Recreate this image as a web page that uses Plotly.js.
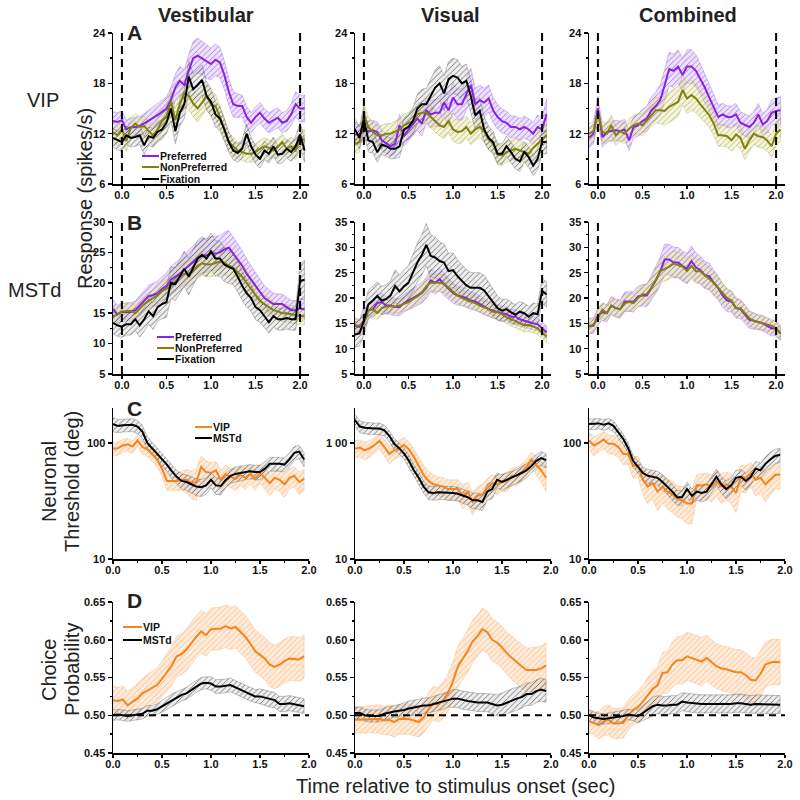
<!DOCTYPE html>
<html>
<head>
<meta charset="utf-8">
<script src="https://cdn.plot.ly/plotly-3.0.1.min.js"></script>
<style>
  body { margin: 0; background: #fff; }
  #graph { width: 800px; height: 800px; }
</style>
</head>
<body>
<div id="graph"></div>
<script>
// time bins (sec) for the PSTH rows (A, B) and the threshold / CP rows (C, D)
var tAB = [-0.1,-0.05,0,0.05,0.1,0.15,0.2,0.25,0.3,0.35,0.4,0.45,0.5,0.55,0.6,0.65,0.7,0.75,0.8,0.85,0.9,0.95,1.0,1.05,1.1,1.15,1.2,1.25,1.3,1.35,1.4,1.45,1.5,1.55,1.6,1.65,1.7,1.75,1.8,1.85,1.9,1.95,2.0,2.05];
var tCD = [0,0.05,0.1,0.15,0.2,0.25,0.3,0.35,0.4,0.45,0.5,0.55,0.6,0.65,0.7,0.75,0.8,0.85,0.9,0.95,1.0,1.05,1.1,1.15,1.2,1.25,1.3,1.35,1.4,1.45,1.5,1.55,1.6,1.65,1.7,1.75,1.8,1.85,1.9,1.95];

// stimulus onset / offset, chance level
var stimEdges = [0, 2];
var chanceLevel = 0.5;

// ---- Row A: VIP responses (spikes/s), mean and sem ----
var aVesPref = [13.5,13.4,13.6,12.5,12.8,12.8,12.9,13.2,13.5,13.9,14.2,14.6,15.0,16.0,17.5,18.3,17.8,19.5,21.0,21.3,21.0,20.6,20.3,20.8,20.5,19.0,17.0,15.5,15.3,15.3,14.0,13.3,14.0,14.5,13.8,13.3,13.6,13.9,13.3,13.5,14.3,15.5,15.0,15.0];
var aVesPrefSem = [1.1,1.1,1.1,1.1,1.1,1.1,1.1,1.2,1.2,1.3,1.3,1.4,1.4,1.5,1.6,1.7,1.8,1.9,2.0,2.1,2.0,2.0,1.9,1.9,1.8,1.7,1.6,1.5,1.4,1.3,1.3,1.2,1.2,1.2,1.2,1.2,1.2,1.2,1.2,1.2,1.3,1.5,1.6,1.6];
var aVesNon = [12.2,11.8,12.5,11.1,12.7,13.2,12.8,12.9,12.3,11.8,12.5,13.5,14.0,15.8,13.6,15.5,16.8,16.5,15.6,15.0,15.7,16.5,15.5,15.3,14.0,12.5,11.0,10.5,10.0,9.8,9.6,9.6,9.8,10.2,10.5,10.3,10.0,10.4,11.0,10.2,10.5,10.0,11.3,11.3];
var aVesNonSem = [1.2,1.2,1.2,1.2,1.2,1.2,1.2,1.2,1.2,1.2,1.2,1.3,1.3,1.4,1.4,1.5,1.6,1.6,1.6,1.6,1.6,1.5,1.5,1.4,1.3,1.2,1.1,1.1,1.0,1.0,1.0,1.0,1.0,1.0,1.0,1.0,1.0,1.0,1.0,1.0,1.1,1.1,1.2,1.2];
var aVesFix = [11.5,11.2,11.0,11.8,11.5,11.6,11.8,10.6,11.7,11.5,12.2,12.5,13.3,15.0,12.3,14.5,15.5,18.8,17.3,17.8,18.4,16.5,15.8,14.3,13.8,12.5,11.0,10.0,9.7,10.2,12.0,10.5,9.5,9.0,10.0,9.6,10.5,9.5,9.6,10.2,9.8,10.5,11.9,10.0];
var aVesFixSem = [1.1,1.1,1.1,1.1,1.1,1.1,1.1,1.1,1.1,1.1,1.2,1.2,1.3,1.5,1.5,1.6,1.7,1.9,1.9,1.9,1.8,1.7,1.6,1.5,1.4,1.3,1.2,1.1,1.1,1.1,1.1,1.1,1.1,1.1,1.1,1.1,1.1,1.1,1.1,1.1,1.1,1.2,1.4,1.4];

var aVisPref = [11.9,11.9,12.5,12.3,12.4,12.2,11.2,10.8,10.5,10.8,13.0,11.8,12.5,13.2,13.8,13.2,14.8,14.3,14.5,14.5,15.7,14.8,16.3,15.5,15.5,16.7,17.8,15.5,16.0,15.7,16.2,14.8,14.0,13.5,13.3,12.8,12.8,12.5,12.8,12.5,12.0,12.8,12.5,14.3];
var aVisPrefSem = [1.2,1.2,1.2,1.2,1.2,1.2,1.2,1.2,1.2,1.2,1.3,1.3,1.3,1.4,1.4,1.5,1.5,1.6,1.6,1.7,1.7,1.8,1.8,1.8,1.9,1.9,2.0,1.9,1.8,1.7,1.6,1.5,1.5,1.4,1.4,1.3,1.3,1.3,1.3,1.3,1.3,1.4,1.5,1.8];
var aVisNon = [10.8,11.0,14.3,12.8,12.2,11.8,11.8,12.0,12.0,12.3,12.5,13.0,13.3,13.5,14.3,14.5,14.5,14.0,13.5,13.0,12.8,13.5,12.5,12.2,12.3,12.8,12.0,12.5,12.8,12.3,11.3,10.8,9.5,9.4,9.8,10.0,10.2,10.0,9.8,9.6,10.3,10.8,11.3,11.8];
var aVisNonSem = [1.2,1.2,1.2,1.2,1.2,1.2,1.2,1.2,1.2,1.2,1.3,1.3,1.3,1.3,1.3,1.3,1.3,1.3,1.3,1.3,1.4,1.4,1.4,1.4,1.4,1.3,1.3,1.3,1.3,1.3,1.2,1.2,1.2,1.2,1.2,1.2,1.2,1.2,1.2,1.2,1.2,1.3,1.3,1.4];
var aVisFix = [12.5,11.5,13.7,11.2,11.0,9.8,10.7,10.5,10.2,10.2,10.5,12.5,12.8,13.5,15.0,15.5,15.5,16.5,17.5,18.0,16.8,18.5,18.9,18.7,18.0,18.3,16.5,14.2,14.7,12.5,11.5,11.0,9.6,9.6,10.5,9.8,9.0,8.7,9.8,9.2,8.2,9.0,11.0,11.0];
var aVisFixSem = [1.3,1.3,1.5,1.4,1.3,1.2,1.2,1.2,1.2,1.2,1.3,1.4,1.5,1.6,1.7,1.8,1.9,2.0,2.1,2.1,2.1,2.1,2.1,2.1,2.0,2.0,1.9,1.8,1.6,1.5,1.4,1.3,1.2,1.2,1.2,1.2,1.2,1.2,1.2,1.2,1.2,1.3,1.4,1.4];

var aCmbPref = [11.5,12.0,15.0,11.6,12.2,12.3,12.4,12.3,12.5,11.2,12.8,13.0,13.5,13.8,14.8,15.3,16.0,17.8,19.7,19.5,20.0,19.0,20.0,20.0,19.5,18.5,17.5,16.3,15.2,14.0,14.3,14.0,14.0,14.3,13.3,13.0,12.8,13.3,14.3,13.1,13.5,14.5,14.7,14.8];
var aCmbPrefSem = [1.2,1.2,1.5,1.2,1.2,1.2,1.2,1.2,1.2,1.2,1.3,1.3,1.4,1.5,1.6,1.7,1.8,1.9,2.0,2.0,2.0,2.0,2.0,2.0,1.9,1.8,1.7,1.6,1.5,1.4,1.3,1.3,1.3,1.3,1.3,1.3,1.3,1.3,1.3,1.3,1.4,1.5,1.6,1.6];
var aCmbNon = [12.0,12.3,14.4,12.2,12.0,13.0,11.8,12.3,12.0,12.6,13.0,13.2,13.0,13.6,14.3,14.8,14.8,14.7,15.2,15.5,15.8,17.2,16.2,16.6,16.2,15.5,14.8,14.2,13.2,11.8,11.8,11.7,11.2,11.9,11.5,10.2,11.2,12.0,11.7,11.6,11.2,10.5,12.0,12.5];
var aCmbNonSem = [1.2,1.2,1.2,1.2,1.2,1.2,1.2,1.2,1.2,1.2,1.2,1.2,1.3,1.3,1.4,1.5,1.6,1.7,1.8,1.8,1.8,1.8,1.8,1.8,1.7,1.6,1.5,1.4,1.4,1.3,1.3,1.3,1.3,1.3,1.3,1.3,1.3,1.3,1.3,1.3,1.3,1.3,1.4,1.4];

// ---- Row B: MSTd responses (spikes/s) ----
var bVesPref = [15.7,14.8,15.2,15.2,15.2,15.5,16.3,17.0,17.8,18.0,18.3,19.0,19.5,20.5,21.0,21.5,22.2,22.8,23.5,24.0,24.5,24.5,24.8,24.8,25.0,25.5,25.8,24.8,24.0,22.8,21.5,20.5,19.5,18.5,17.5,17.0,16.5,16.5,16.5,16.0,15.5,15.5,15.8,15.6];
var bVesPrefSem = [1.5,1.5,1.5,1.5,1.5,1.5,1.6,1.7,1.8,1.9,2.0,2.0,2.1,2.2,2.3,2.4,2.5,2.6,2.7,2.8,2.8,2.8,2.8,2.8,2.8,2.8,2.8,2.7,2.6,2.5,2.4,2.3,2.2,2.1,2.0,1.9,1.8,1.7,1.6,1.6,1.6,1.6,1.6,1.6];
var bVesNon = [14.5,14.8,15.3,15.4,15.4,15.0,15.8,16.5,17.0,17.5,18.0,18.7,19.0,19.5,20.3,21.0,21.5,21.5,22.0,22.8,23.2,23.0,23.0,23.2,23.5,23.3,22.8,22.5,21.8,21.0,20.0,19.0,18.0,17.0,16.5,16.0,15.5,15.3,15.0,15.0,14.8,14.6,14.5,14.5];
var bVesNonSem = [1.3,1.3,1.3,1.3,1.3,1.3,1.3,1.3,1.3,1.3,1.4,1.5,1.5,1.6,1.7,1.8,1.9,2.0,2.0,2.0,2.0,2.0,2.0,2.0,2.0,2.0,2.0,2.0,2.0,2.0,1.9,1.8,1.7,1.6,1.5,1.4,1.4,1.4,1.4,1.4,1.4,1.4,1.4,1.4];
var bVesFix = [13.4,13.0,12.8,13.2,13.2,14.0,13.0,14.0,15.3,14.5,16.0,16.5,16.8,20.0,19.8,21.0,22.3,21.0,22.5,24.0,24.6,24.0,25.2,24.0,24.0,23.0,22.6,22.3,21.0,19.5,18.3,17.5,16.0,15.5,14.5,13.5,14.5,14.0,14.0,14.2,14.0,14.0,20.3,20.5];
var bVesFixSem = [1.8,1.8,1.8,1.8,1.8,1.9,1.9,2.0,2.1,2.2,2.3,2.4,2.5,2.6,2.7,2.8,2.9,3.0,3.0,3.0,3.0,3.0,3.0,2.9,2.9,2.8,2.7,2.6,2.5,2.4,2.3,2.2,2.1,2.0,1.9,1.8,1.8,1.8,1.8,1.8,1.8,1.8,3.0,3.2];

var bVisPref = [14.5,14.3,15.5,17.5,17.8,19.0,19.2,18.5,18.5,18.2,18.2,19.0,19.5,20.0,20.5,21.0,22.0,23.5,23.0,23.7,22.7,21.8,21.0,20.5,20.3,20.0,19.5,19.3,18.8,18.3,17.8,17.5,17.2,17.0,16.8,16.3,16.3,15.8,15.5,15.2,15.0,14.8,14.0,13.2];
var bVisPrefSem = [1.4,1.4,1.6,1.6,1.6,1.7,1.7,1.7,1.7,1.7,1.7,1.8,1.8,1.9,2.0,2.0,2.1,2.2,2.2,2.2,2.2,2.1,2.0,1.9,1.8,1.8,1.7,1.7,1.6,1.6,1.5,1.5,1.5,1.5,1.4,1.4,1.4,1.4,1.3,1.3,1.3,1.3,1.3,1.3];
var bVisNon = [14.7,14.5,15.0,17.5,17.8,17.0,18.0,18.3,18.4,18.3,18.5,18.8,19.2,19.8,20.3,21.0,22.3,23.0,23.0,23.0,22.8,22.0,21.2,20.5,20.0,19.7,19.3,19.0,18.5,18.2,17.8,17.3,17.2,16.8,16.2,15.8,15.5,15.0,14.6,14.7,14.3,14.0,13.2,12.4];
var bVisNonSem = [1.3,1.3,1.3,1.3,1.3,1.3,1.3,1.3,1.3,1.3,1.3,1.4,1.4,1.4,1.5,1.5,1.6,1.7,1.7,1.7,1.7,1.6,1.6,1.5,1.5,1.4,1.4,1.4,1.3,1.3,1.3,1.3,1.3,1.3,1.3,1.3,1.3,1.3,1.3,1.3,1.2,1.2,1.2,1.2];
var bVisFix = [12.8,13.0,15.5,18.7,19.5,20.4,19.5,19.8,20.5,22.4,21.3,22.3,23.0,25.0,27.0,28.5,30.5,28.3,28.0,27.3,27.0,25.3,25.5,24.3,23.5,22.5,22.0,22.0,22.0,21.5,20.3,19.0,18.0,17.5,17.8,17.2,16.7,17.3,17.0,16.3,17.0,16.8,21.4,20.7];
var bVisFixSem = [2.5,2.5,2.8,2.8,2.8,2.8,2.8,2.8,3.0,3.2,3.2,3.3,3.4,3.6,3.8,4.0,4.2,4.2,4.0,3.8,3.6,3.5,3.4,3.3,3.2,3.1,3.0,3.0,3.0,3.0,2.8,2.6,2.4,2.2,2.0,2.0,2.0,2.0,2.0,2.0,2.0,2.0,2.5,2.5];

var bCmbPref = [14.5,14.5,16.5,17.2,17.0,18.5,18.0,17.8,19.3,19.3,19.3,20.3,20.5,20.5,22.0,23.5,25.3,27.6,27.6,27.0,27.0,26.3,25.8,27.3,26.0,25.5,24.5,24.3,23.0,22.0,20.5,19.5,19.3,18.0,17.8,16.8,15.7,15.5,15.2,15.0,14.5,14.0,14.0,13.0];
var bCmbPrefSem = [1.5,1.5,1.6,1.7,1.7,1.8,1.8,1.8,1.9,1.9,2.0,2.0,2.1,2.2,2.4,2.6,2.8,3.0,3.0,3.0,3.0,3.0,3.0,3.0,2.9,2.8,2.7,2.6,2.5,2.4,2.3,2.2,2.1,2.0,1.9,1.8,1.7,1.6,1.5,1.5,1.5,1.5,1.5,1.5];
var bCmbNon = [14.3,14.8,16.0,17.7,17.0,18.5,18.0,17.8,19.0,19.2,19.0,20.0,20.7,20.8,22.0,23.5,25.3,25.7,26.2,26.8,26.5,26.2,25.3,26.3,25.3,25.3,24.5,23.8,23.0,22.0,21.0,20.0,19.5,18.0,18.0,17.0,16.0,15.5,15.3,15.0,14.8,14.5,14.0,13.0];
var bCmbNonSem = [1.4,1.4,1.5,1.5,1.5,1.6,1.6,1.6,1.7,1.7,1.8,1.8,1.9,2.0,2.1,2.2,2.3,2.4,2.5,2.5,2.5,2.5,2.5,2.5,2.4,2.3,2.3,2.2,2.1,2.0,2.0,1.9,1.8,1.7,1.6,1.5,1.4,1.4,1.3,1.3,1.3,1.3,1.3,1.3];

// ---- Row C: neuronal thresholds (deg) ----
var cVesVip = [89,90,95,97,93,105,92,88,80,72,60,47,47,47,48,48,45,46,62,56,55,58,48,54,51,49,53,50,54,49,55,50,45,50,48,44,50,52,46,49];
var cVesVipSem = [12,12,12,12,12,12,12,12,11,10,9,8,8,8,9,11,12,14,15,14,12,11,10,10,10,10,10,10,10,10,10,10,10,10,10,10,10,10,10,10];
var cVesMst = [145,140,142,143,143,138,125,100,90,80,72,65,57,51,47,46,44,42,41.5,43,48,43,42.5,48,52,54,55,56,57,56,56,60,66,66,66,65,72,82,84,72];
var cVesMstSem = [20,18,18,18,18,18,16,13,11,10,9,8,8,7,7,7,7,7,7,7,7,7,7,7,7,8,8,8,8,8,8,9,9,9,9,9,10,11,11,10];

var cVisVip = [89,91,86,90,96,104,92,80,86,90,96,88,76,63,53,47,44,43,42,40,40,40,35,38,31,35,36,41,45,44,46,47,52,52,56,62,72,65,58,50];
var cVisVipSem = [15,15,15,15,15,15,15,14,14,15,15,14,13,12,11,10,9,8,8,8,8,8,8,8,7,7,8,8,8,8,8,9,9,9,10,10,11,12,12,12];
var cVisMst = [157,138,135,133,133,133,128,115,98,90,81,70,58,50,42,37.5,37,37.5,37.5,37,37,36.5,35,34,32,32,31,38,40,48,46,48,50,52,55,58,63,70,74,71];
var cVisMstSem = [18,16,15,15,15,15,14,12,11,10,9,8,7,6,5,5,5,5,5,5,5,5,5,5,5,5,5,6,7,7,7,7,7,7,8,8,8,9,10,10];

var cCmbVip = [105,95,100,107,98,98,92,80,80,63,64,48,42,45,38,42,38,36,33,32,30,30,43,43,44,42,47,42,44,42,37,51,50,55,48,50,44,48,53,53];
var cCmbVipSem = [18,18,18,18,18,18,17,15,14,13,13,12,12,12,12,12,11,11,10,10,10,10,10,11,11,11,12,12,12,12,12,13,13,13,13,13,13,13,13,13];
var cCmbMst = [145,145,147,143,147,140,123,108,90,70,62,55,52,51,50,46,42,38,34,34,40,35,38,37,38,44,51,44,40,43,50,51,47,51,60,58,66,72,77,79];
var cCmbMstSem = [15,15,15,15,15,15,13,11,9,8,8,7,7,7,7,7,6,6,5,5,6,5,6,6,6,7,8,7,7,7,8,8,8,8,9,9,10,11,11,11];

// ---- Row D: choice probability ----
var dVesVip = [0.520,0.519,0.521,0.513,0.518,0.522,0.529,0.533,0.537,0.540,0.548,0.557,0.566,0.578,0.581,0.587,0.596,0.604,0.611,0.606,0.614,0.614,0.615,0.618,0.615,0.617,0.610,0.604,0.595,0.585,0.580,0.575,0.567,0.564,0.567,0.572,0.575,0.575,0.574,0.578];
var dVesVipSem = [0.018,0.018,0.018,0.019,0.019,0.020,0.020,0.021,0.022,0.023,0.024,0.025,0.026,0.027,0.027,0.028,0.028,0.028,0.028,0.028,0.028,0.028,0.028,0.028,0.028,0.028,0.028,0.028,0.028,0.028,0.028,0.028,0.029,0.029,0.029,0.029,0.029,0.029,0.029,0.029];
var dVesMst = [0.500,0.501,0.500,0.499,0.500,0.501,0.502,0.506,0.506,0.508,0.512,0.516,0.520,0.523,0.527,0.529,0.534,0.538,0.542,0.543,0.542,0.538,0.538,0.539,0.540,0.537,0.534,0.531,0.528,0.525,0.525,0.523,0.521,0.520,0.515,0.515,0.516,0.515,0.514,0.512];
var dVesMstSem = [0.007,0.007,0.007,0.007,0.007,0.007,0.007,0.007,0.007,0.007,0.008,0.008,0.008,0.008,0.008,0.008,0.008,0.008,0.008,0.008,0.009,0.009,0.009,0.009,0.009,0.009,0.009,0.009,0.009,0.009,0.010,0.010,0.010,0.010,0.010,0.010,0.010,0.010,0.010,0.010];

var dVisVip = [0.494,0.494,0.494,0.495,0.495,0.495,0.493,0.494,0.491,0.495,0.495,0.495,0.493,0.491,0.497,0.508,0.516,0.514,0.520,0.530,0.545,0.565,0.575,0.585,0.598,0.605,0.614,0.610,0.600,0.596,0.590,0.582,0.576,0.570,0.565,0.560,0.560,0.560,0.562,0.566];
var dVisVipSem = [0.017,0.017,0.018,0.018,0.019,0.019,0.019,0.020,0.020,0.020,0.020,0.020,0.020,0.020,0.021,0.022,0.022,0.023,0.024,0.025,0.026,0.027,0.027,0.028,0.028,0.028,0.028,0.028,0.028,0.028,0.028,0.028,0.029,0.029,0.029,0.029,0.030,0.030,0.030,0.030];
var dVisMst = [0.503,0.503,0.500,0.499,0.499,0.499,0.502,0.504,0.505,0.506,0.507,0.509,0.510,0.511,0.513,0.513,0.515,0.517,0.518,0.521,0.522,0.522,0.520,0.519,0.518,0.517,0.517,0.517,0.515,0.513,0.514,0.517,0.520,0.522,0.524,0.528,0.528,0.532,0.534,0.532];
var dVisMstSem = [0.008,0.008,0.008,0.008,0.008,0.008,0.008,0.008,0.008,0.008,0.010,0.010,0.010,0.010,0.010,0.010,0.010,0.010,0.010,0.010,0.012,0.012,0.012,0.012,0.012,0.012,0.012,0.012,0.013,0.014,0.015,0.015,0.015,0.015,0.015,0.015,0.015,0.015,0.015,0.015];

var dCmbVip = [0.492,0.490,0.487,0.492,0.494,0.489,0.489,0.490,0.500,0.507,0.511,0.518,0.526,0.535,0.540,0.556,0.557,0.567,0.573,0.573,0.578,0.576,0.574,0.571,0.576,0.570,0.565,0.562,0.561,0.559,0.557,0.557,0.553,0.547,0.546,0.555,0.567,0.570,0.571,0.570];
var dCmbVipSem = [0.015,0.016,0.018,0.019,0.020,0.020,0.020,0.020,0.020,0.020,0.021,0.022,0.023,0.024,0.025,0.027,0.028,0.030,0.031,0.032,0.032,0.032,0.032,0.032,0.031,0.030,0.030,0.030,0.030,0.030,0.030,0.030,0.030,0.030,0.030,0.030,0.030,0.030,0.030,0.030];
var dCmbMst = [0.500,0.497,0.496,0.495,0.496,0.497,0.498,0.499,0.501,0.500,0.499,0.503,0.507,0.512,0.514,0.513,0.513,0.514,0.514,0.518,0.517,0.516,0.515,0.515,0.515,0.515,0.515,0.515,0.515,0.515,0.516,0.516,0.515,0.514,0.515,0.515,0.515,0.514,0.514,0.514];
var dCmbMstSem = [0.007,0.007,0.007,0.007,0.007,0.007,0.007,0.007,0.007,0.007,0.009,0.010,0.011,0.012,0.012,0.012,0.012,0.012,0.012,0.012,0.012,0.012,0.012,0.012,0.012,0.012,0.012,0.012,0.012,0.012,0.012,0.012,0.012,0.012,0.012,0.012,0.012,0.012,0.012,0.012];

// line + band colours
var styles = {
    pref: {line: '#8a22e6', band: 'rgba(200,170,245,0.35)', hatch: 'rgba(140,60,225,0.75)', edge: 'rgba(150,90,230,0.6)'},
    non:  {line: '#82820a', band: 'rgba(225,225,160,0.35)', hatch: 'rgba(150,150,40,0.7)', edge: 'rgba(170,170,70,0.6)'},
    fix:  {line: '#000000', band: 'rgba(200,200,200,0.3)', hatch: 'rgba(50,50,50,0.75)', edge: 'rgba(90,90,90,0.6)'},
    vip:  {line: '#f7841a', band: 'rgba(253,205,160,0.4)', hatch: 'rgba(245,160,90,0.7)', edge: 'rgba(245,170,110,0.6)'},
    mst:  {line: '#000000', band: 'rgba(200,200,200,0.3)', hatch: 'rgba(50,50,50,0.75)', edge: 'rgba(90,90,90,0.6)'}
};

// which series go in which panel (row-major, 3 columns)
var panels = [
    {t: tAB, s: [[aVesPref, aVesPrefSem, 'pref'], [aVesNon, aVesNonSem, 'non'], [aVesFix, aVesFixSem, 'fix']]},
    {t: tAB, s: [[aVisPref, aVisPrefSem, 'pref'], [aVisNon, aVisNonSem, 'non'], [aVisFix, aVisFixSem, 'fix']]},
    {t: tAB, s: [[aCmbPref, aCmbPrefSem, 'pref'], [aCmbNon, aCmbNonSem, 'non']]},
    {t: tAB, s: [[bVesPref, bVesPrefSem, 'pref'], [bVesNon, bVesNonSem, 'non'], [bVesFix, bVesFixSem, 'fix']]},
    {t: tAB, s: [[bVisPref, bVisPrefSem, 'pref'], [bVisNon, bVisNonSem, 'non'], [bVisFix, bVisFixSem, 'fix']]},
    {t: tAB, s: [[bCmbPref, bCmbPrefSem, 'pref'], [bCmbNon, bCmbNonSem, 'non']]},
    {t: tCD, s: [[cVesVip, cVesVipSem, 'vip'], [cVesMst, cVesMstSem, 'mst']]},
    {t: tCD, s: [[cVisVip, cVisVipSem, 'vip'], [cVisMst, cVisMstSem, 'mst']]},
    {t: tCD, s: [[cCmbVip, cCmbVipSem, 'vip'], [cCmbMst, cCmbMstSem, 'mst']]},
    {t: tCD, s: [[dVesVip, dVesVipSem, 'vip'], [dVesMst, dVesMstSem, 'mst']]},
    {t: tCD, s: [[dVisVip, dVisVipSem, 'vip'], [dVisMst, dVisMstSem, 'mst']]},
    {t: tCD, s: [[dCmbVip, dCmbVipSem, 'vip'], [dCmbMst, dCmbMstSem, 'mst']]}
];

// panel placement in pixels
var colPx = [[113, 309], [355, 551], [589, 785]];
var rowPx = [[33, 184], [222, 374], [408, 559], [602, 753]];

var W = 800, H = 800;
var tickFont = {family: 'Liberation Sans, Arial, sans-serif', size: 11, color: '#111', weight: 'bold'};
var labelFont = {family: 'Liberation Sans, Arial, sans-serif', size: 20, color: '#222'};

function suffix(k) { return k === 0 ? '' : String(k + 1); }

function drawGraph() {
    var data = [];
    var layout = {
        width: W, height: H,
        margin: {l: 0, r: 0, t: 0, b: 0},
        paper_bgcolor: 'white', plot_bgcolor: 'rgba(0,0,0,0)',
        showlegend: false,
        shapes: [], annotations: []
    };

    panels.forEach(function (p, k) {
        var row = Math.floor(k / 3), col = k % 3;
        var xs = 'x' + suffix(k), ys = 'y' + suffix(k);

        // bands first, then the mean lines on top
        p.s.forEach(function (ser) {
            var m = ser[0], se = ser[1], st = styles[ser[2]];
            var up = m.map(function (v, i) { return v + se[i]; });
            var lo = m.map(function (v, i) { return v - se[i]; });
            data.push({
                x: p.t.concat(p.t.slice().reverse()),
                y: up.concat(lo.reverse()),
                xaxis: xs, yaxis: ys,
                mode: 'lines', fill: 'toself',
                fillcolor: st.band,
                fillpattern: {shape: '/', size: 4, solidity: 0.2, fgcolor: st.hatch, bgcolor: st.band},
                line: {color: st.edge, width: 0.6},
                hoverinfo: 'skip'
            });
        });
        p.s.forEach(function (ser) {
            data.push({
                x: p.t, y: ser[0], xaxis: xs, yaxis: ys,
                mode: 'lines', line: {color: styles[ser[2]].line, width: 2}
            });
        });

        var xa = {
            domain: [colPx[col][0] / W, colPx[col][1] / W],
            anchor: ys,
            range: row < 2 ? [-0.1, 2.1] : [0, 2],
            dtick: 0.5, tick0: 0, tickformat: '.1f',
            showline: true, linecolor: 'black', linewidth: 1.5,
            ticks: 'outside', ticklen: 3, tickwidth: 1.5, tickcolor: 'black',
            ticklabelstandoff: -3,
            minor: {ticks: 'outside', ticklen: 2, tickwidth: 1, tickcolor: 'black', dtick: 0.25},
            showgrid: false, zeroline: false, tickfont: tickFont
        };
        var ya = {
            domain: [1 - rowPx[row][1] / H, 1 - rowPx[row][0] / H],
            anchor: xs,
            showline: true, linecolor: 'black', linewidth: 1.5,
            ticks: 'outside', ticklen: 4, tickwidth: 1.5, tickcolor: 'black',
            showgrid: false, zeroline: false, tickfont: tickFont
        };
        if (row === 0) {
            ya.range = [6, 24]; ya.dtick = 6; ya.tick0 = 0;
            ya.minor = {ticks: 'outside', ticklen: 2, tickcolor: 'black', dtick: 3};
        } else if (row === 1) {
            ya.range = col === 0 ? [5, 30] : [5, 35]; ya.dtick = 5; ya.tick0 = 0;
            ya.minor = {ticks: 'outside', ticklen: 2, tickcolor: 'black', dtick: 2.5};
        } else if (row === 2) {
            ya.type = 'log'; ya.range = [1, 2.3];
            ya.tickvals = [10, 100];
            ya.ticktext = col === 1 ? ['10', '1 00'] : ['10', '100'];
        } else {
            ya.range = [0.45, 0.65]; ya.dtick = 0.05; ya.tick0 = 0; ya.tickformat = '.2f';
            ya.minor = {ticks: 'outside', ticklen: 2, tickcolor: 'black', dtick: 0.025};
        }
        layout['xaxis' + suffix(k)] = xa;
        layout['yaxis' + suffix(k)] = ya;

        // stimulus onset/offset markers for the PSTH rows
        if (row < 2) {
            stimEdges.forEach(function (te) {
                layout.shapes.push({
                    type: 'line', xref: xs, yref: ys + ' domain',
                    x0: te, x1: te, y0: 0, y1: 1,
                    line: {color: 'black', width: 2, dash: '8px,5px'}
                });
            });
        }
        // chance level for choice probability
        if (row === 3) {
            layout.shapes.push({
                type: 'line', xref: xs + ' domain', yref: ys,
                x0: 0, x1: 1, y0: chanceLevel, y1: chanceLevel,
                line: {color: 'black', width: 2, dash: '7px,5px'}
            });
        }
    });

    // text labels (pixel positions -> paper)
    function txt(s, px, py, font, opts) {
        var a = {text: s, x: px / W, y: 1 - py / H, xref: 'paper', yref: 'paper',
                 showarrow: false, font: font, xanchor: 'center', yanchor: 'middle'};
        for (var key in opts) a[key] = opts[key];
        layout.annotations.push(a);
    }
    var titleFont = {family: 'Liberation Sans, Arial, sans-serif', size: 20, color: '#222', weight: 'bold'};
    txt('Vestibular', 206, 15, titleFont);
    txt('Visual', 450, 15, titleFont);
    txt('Combined', 688, 15, titleFont);

    var letterFont = {family: 'Liberation Sans, Arial, sans-serif', size: 21, color: '#222', weight: 'bold'};
    txt('A', 134, 32, letterFont);
    txt('B', 134, 222, letterFont);
    txt('C', 134, 408, letterFont);
    txt('D', 134, 600, letterFont);

    txt('VIP', 43, 100, labelFont);
    txt('MSTd', 34, 290, labelFont);
    txt('Response (spikes/s)', 85, 199, labelFont, {textangle: -90});
    txt('Neuronal', 49, 482, labelFont, {textangle: -90});
    txt('Threshold (deg)', 72, 482, labelFont, {textangle: -90});
    txt('Choice', 49, 670, labelFont, {textangle: -90});
    txt('Probability', 72, 670, labelFont, {textangle: -90});
    txt('Time relative to stimulus onset (sec)', 455, 786, labelFont, {yanchor: 'middle'});

    // in-panel legends: short coloured line followed by the label
    var legFont = {family: 'Liberation Sans, Arial, sans-serif', size: 10.5, color: '#111', weight: 'bold'};
    function legend(label, color, px, py, len) {
        layout.annotations.push({
            text: label, xref: 'paper', yref: 'paper', x: px / W, y: 1 - py / H,
            showarrow: true, ax: len, ay: 0, arrowhead: 0, arrowwidth: 2, arrowcolor: color,
            standoff: 0, startstandoff: 0, xanchor: 'left', yanchor: 'middle',
            borderpad: 0, font: legFont
        });
    }
    legend('Preferred', styles.pref.line, 142, 156, 17);
    legend('NonPreferred', styles.non.line, 142, 167, 17);
    legend('Fixation', styles.fix.line, 142, 179, 17);
    legend('Preferred', styles.pref.line, 157, 337, 17);
    legend('NonPreferred', styles.non.line, 157, 348, 17);
    legend('Fixation', styles.fix.line, 157, 359, 17);
    legend('VIP', styles.vip.line, 195, 427, 17);
    legend('MSTd', styles.mst.line, 195, 438, 17);
    legend('VIP', styles.vip.line, 123, 627, 19);
    legend('MSTd', styles.mst.line, 123, 640, 19);

    Plotly.newPlot('graph', data, layout, {staticPlot: true});
}

drawGraph();
</script>
</body>
</html>
